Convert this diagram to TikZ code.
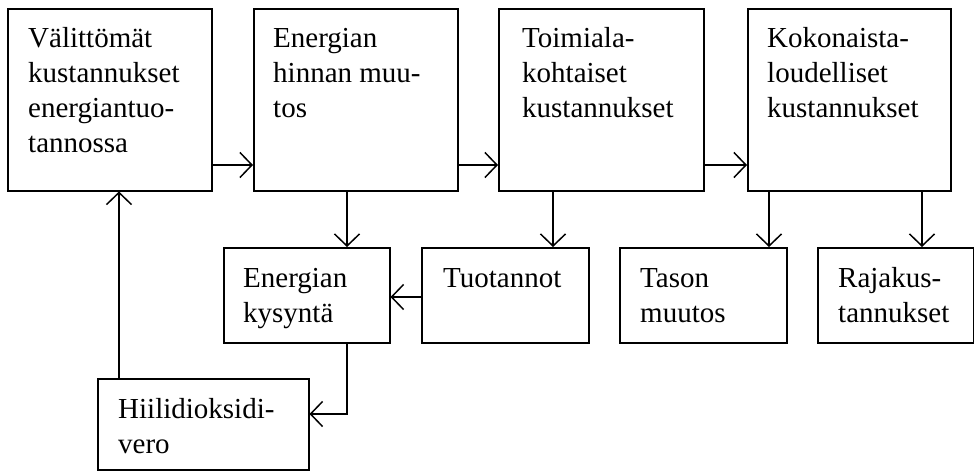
\documentclass[tikz,border=0pt]{standalone}
\usepackage{fontspec}
\setmainfont{Liberation Serif}
\usetikzlibrary{arrows.meta}
\tikzset{
  box/.style={draw, line width=1.5pt, inner sep=0pt, anchor=north west},
  txt/.style={anchor=base west, align=left, inner sep=0pt, font=\fontsize{29}{35}\selectfont},
  arr/.style={line width=1.5pt, -{Straight Barb[length=12pt, width=25pt, line width=1.5pt]}},
}
\begin{document}
\begin{tikzpicture}[x=1pt, y=-1pt]
\useasboundingbox (0,0) rectangle (974,471);
% boxes
\node[box, minimum width=204pt, minimum height=182pt] (b1) at (7,8) {};
\node[box, minimum width=204pt, minimum height=182pt] (b2) at (253,8) {};
\node[box, minimum width=205pt, minimum height=182pt] (b3) at (498,8) {};
\node[box, minimum width=203pt, minimum height=182pt] (b4) at (747,8) {};
\node[box, minimum width=166pt, minimum height=95pt] (ek) at (223,247) {};
\node[box, minimum width=167pt, minimum height=95pt] (tu) at (421,247) {};
\node[box, minimum width=167pt, minimum height=95pt] (ta) at (619,247) {};
\node[box, minimum width=156pt, minimum height=95pt] (rk) at (817,247) {};
\node[box, minimum width=211pt, minimum height=91pt] (hv) at (97,378) {};
% texts (anchor is the baseline of the last line)
\node[txt] (t1) at ([xshift=21pt,yshift=-144pt]b1.north west) {Välittömät\\kustannukset\\energiantuo-\\tannossa};
\node[txt] (t2) at ([xshift=20pt,yshift=-109pt]b2.north west) {Energian\\hinnan muu-\\tos};
\node[txt] (t3) at ([xshift=24pt,yshift=-109pt]b3.north west) {Toimiala-\\kohtaiset\\kustannukset};
\node[txt] (t4) at ([xshift=20pt,yshift=-109pt]b4.north west) {Kokonaista-\\loudelliset\\kustannukset};
\node[txt] (tek) at ([xshift=20pt,yshift=-75pt]ek.north west) {Energian\\kysyntä};
\node[txt] (ttu) at ([xshift=22pt,yshift=-40pt]tu.north west) {Tuotannot};
\node[txt] (tta) at ([xshift=21pt,yshift=-75pt]ta.north west) {Tason\\muutos};
\node[txt] (trk) at ([xshift=21pt,yshift=-75pt]rk.north west) {Rajakus-\\tannukset};
\node[txt] (thv) at ([xshift=21pt,yshift=-75pt]hv.north west) {Hiilidioksidi-\\vero};
% connectors
\draw[arr] ([yshift=-157pt]b1.north east) -- ([yshift=-157pt]b2.north west);
\draw[arr] ([yshift=-157pt]b2.north east) -- ([yshift=-157pt]b3.north west);
\draw[arr] ([yshift=-157pt]b3.north east) -- ([yshift=-157pt]b4.north west);
\draw[arr] ([xshift=94pt]b2.south west) -- ([xshift=124pt]ek.north west);
\draw[arr] ([xshift=55pt]b3.south west) -- ([xshift=132pt]tu.north west);
\draw[arr] ([xshift=22pt]b4.south west) -- ([xshift=150pt]ta.north west);
\draw[arr] ([xshift=175pt]b4.south west) -- ([xshift=105pt]rk.north west);
\draw[arr] ([yshift=-50pt]tu.north west) -- ([yshift=-50pt]ek.north east);
\draw[arr] ([xshift=124pt]ek.south west) |- ([yshift=-36pt]hv.north east);
\draw[arr] ([xshift=22pt]hv.north west) -- ([xshift=112pt]b1.south west);
\end{tikzpicture}
\end{document}
